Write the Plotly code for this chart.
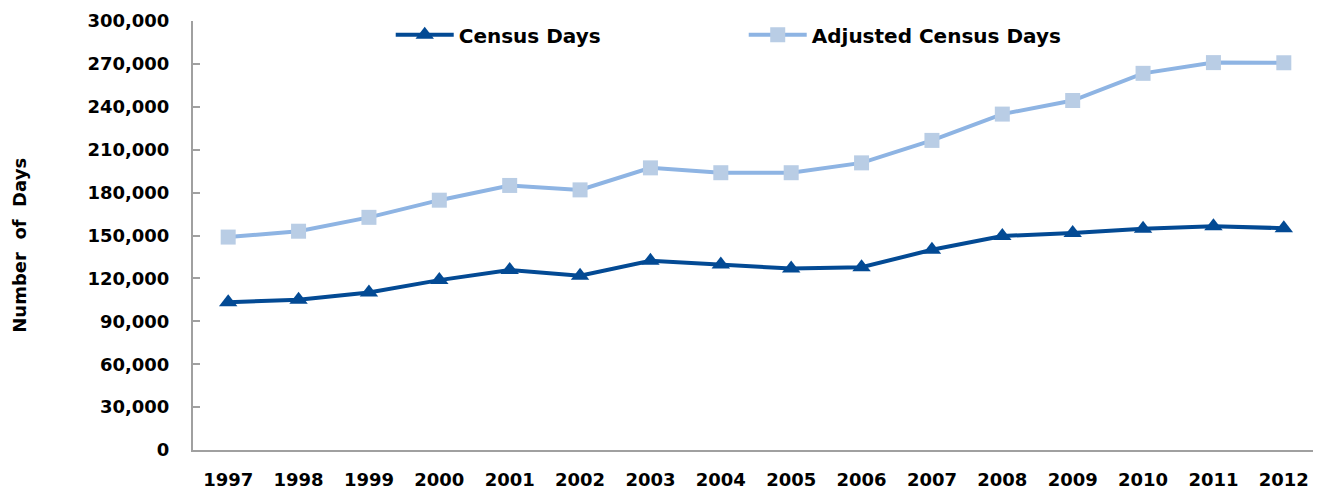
import plotly.graph_objects as go

years = ["1997", "1998", "1999", "2000", "2001", "2002", "2003", "2004",
         "2005", "2006", "2007", "2008", "2009", "2010", "2011", "2012"]
census_days = [103400, 105000, 110100, 118800, 125800, 121900, 132300, 129700,
               126900, 127800, 140000, 149600, 151800, 154800, 156500, 155100]
adjusted_census_days = [148900, 153000, 162700, 174700, 185000, 181900, 197300, 193900,
                        193900, 200800, 216500, 234900, 244400, 263400, 270900, 270800]
y_ticks = [0, 30000, 60000, 90000, 120000, 150000, 180000, 210000, 240000, 270000, 300000]
y_tick_labels = ["0", "30,000", "60,000", "90,000", "120,000", "150,000", "180,000",
                 "210,000", "240,000", "270,000", "300,000"]

FONT = "DejaVu Sans"
AXIS_COLOR = "#a0a0a0"

# page body has an 8px margin, so the figure is sized to fit the window
fig = go.Figure()
fig.add_trace(go.Scatter(
    x=years, y=census_days, name="<b>Census Days</b>", mode="lines+markers",
    line=dict(color="#034a94", width=4),
    marker=dict(symbol="triangle-up", size=16, color="#034a94"),
))
fig.add_trace(go.Scatter(
    x=years, y=adjusted_census_days, name="<b>Adjusted Census Days</b>", mode="lines+markers",
    line=dict(color="#8eb4e3", width=4),
    marker=dict(symbol="square", size=15, color="#b9cde5"),
))

fig.update_layout(
    width=1313, height=484,
    margin=dict(l=185, r=2, t=12, b=39),
    paper_bgcolor="white", plot_bgcolor="white",
    font=dict(family=FONT, color="black"),
    showlegend=True,
    legend=dict(
        orientation="h", x=0.1756, y=0.968, xanchor="left", yanchor="middle",
        font=dict(family=FONT, size=20, color="black"),
        itemwidth=58, entrywidth=280, bgcolor="rgba(0,0,0,0)",
    ),
    xaxis=dict(
        type="category", range=[-0.5, 15.5],
        showline=True, linecolor=AXIS_COLOR, linewidth=2,
        showgrid=False, zeroline=False, ticks="",
        tickfont=dict(family=FONT, size=18, color="black", weight="bold"),
        ticklabelstandoff=12,
    ),
    yaxis=dict(
        range=[0, 300000], tickvals=y_ticks, ticktext=y_tick_labels,
        showline=True, linecolor=AXIS_COLOR, linewidth=2,
        showgrid=False, zeroline=False,
        ticks="inside", ticklen=7, tickwidth=2, tickcolor=AXIS_COLOR,
        tickfont=dict(family=FONT, size=18, color="black", weight="bold"),
        ticklabelstandoff=18,
    ),
    annotations=[dict(
        text="<b>Number\u00a0 of\u00a0 Days</b>", textangle=-90,
        xref="paper", yref="paper", x=(20 - 193) / 1126, y=(453.3 - 247) / 433.3,
        xanchor="center", yanchor="middle", showarrow=False,
        font=dict(family=FONT, size=18, color="black"),
    )],
)

fig.write_html("out.html")
